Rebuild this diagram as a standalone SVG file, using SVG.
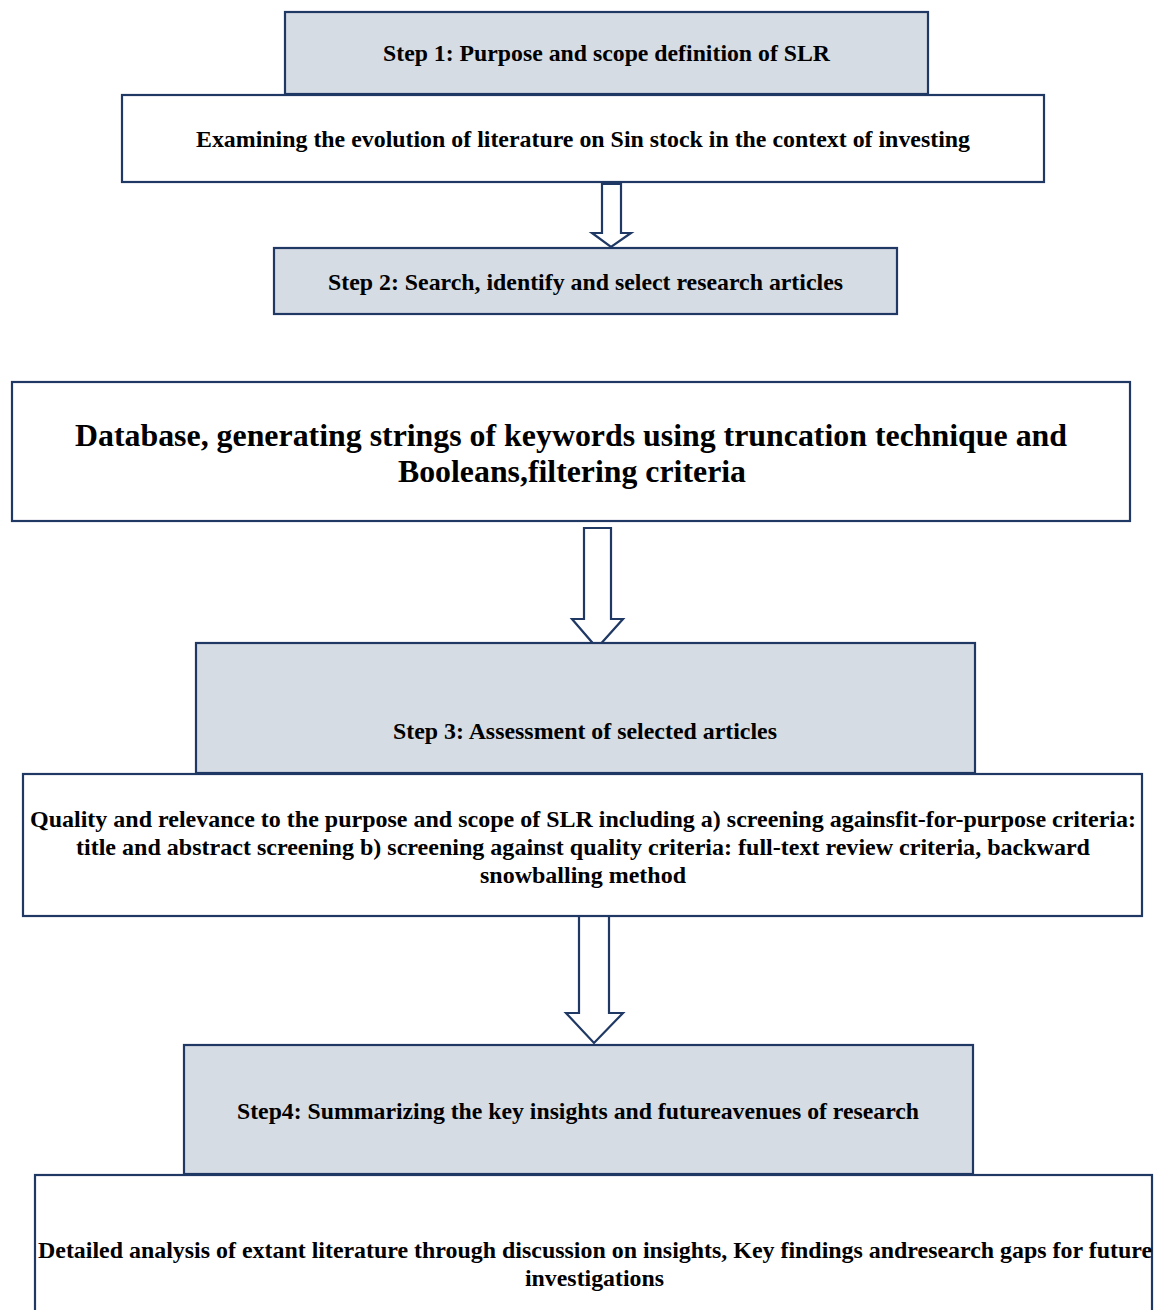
<svg xmlns="http://www.w3.org/2000/svg" width="1159" height="1310" viewBox="0 0 1159 1310">
<style>
.box{stroke:#1F3864;stroke-width:2.2;}
.step{fill:#D6DCE4;}
.plain{fill:#FFFFFF;}
.arr{fill:#FFFFFF;stroke:#1F3864;stroke-width:2.2;stroke-linejoin:miter;}
text{font-family:"Liberation Serif","Times New Roman",serif;font-weight:bold;fill:#000;text-anchor:middle;}
.t20{font-size:23px;}
.t28{font-size:31.5px;}
</style>
<rect width="1159" height="1310" fill="#FFFFFF"/>
<g id="connectors">
<path class="arr" d="M602,184 L621,184 L621,233 L631,233 L611,247 L592,233 L602,233 Z"/>
<path class="arr" d="M584,528 L611,528 L611,619 L623,619 L597,648 L572,619 L584,619 Z"/>
<path class="arr" d="M579,916 L609,916 L609,1013 L623,1013 L594,1043 L566,1013 L579,1013 Z"/>
</g>
<g id="step1">
<rect class="box step" x="285" y="12" width="643" height="82"/>
<text class="t20" x="606.5" y="61" textLength="447" lengthAdjust="spacingAndGlyphs">Step 1: Purpose and scope definition of SLR</text>
</g>
<g id="scope">
<rect class="box plain" x="122" y="95" width="922" height="87"/>
<text class="t20" x="583" y="147" textLength="774" lengthAdjust="spacingAndGlyphs">Examining the evolution of literature on Sin stock in the context of investing</text>
</g>
<g id="step2">
<rect class="box step" x="274" y="248" width="623" height="66"/>
<text class="t20" x="585.5" y="290" textLength="515" lengthAdjust="spacingAndGlyphs">Step 2: Search, identify and select research articles</text>
</g>
<g id="search">
<rect class="box plain" x="12" y="382" width="1118" height="139"/>
<text class="t28" x="571" y="446" textLength="992" lengthAdjust="spacingAndGlyphs">Database, generating strings of keywords using truncation technique and</text>
<text class="t28" x="572" y="482" textLength="348" lengthAdjust="spacingAndGlyphs">Booleans,filtering criteria</text>
</g>
<g id="step3">
<rect class="box step" x="196" y="643" width="779" height="130"/>
<text class="t20" x="585" y="739" textLength="384" lengthAdjust="spacingAndGlyphs">Step 3: Assessment of selected articles</text>
</g>
<g id="assessment">
<rect class="box plain" x="23" y="774" width="1119" height="142"/>
<text class="t20" x="583" y="827" textLength="1106" lengthAdjust="spacingAndGlyphs">Quality and relevance to the purpose and scope of SLR including a) screening againsfit-for-purpose criteria:</text>
<text class="t20" x="583" y="855" textLength="1014" lengthAdjust="spacingAndGlyphs">title and abstract screening b) screening against quality criteria: full-text review criteria, backward</text>
<text class="t20" x="583" y="883" textLength="206" lengthAdjust="spacingAndGlyphs">snowballing method</text>
</g>
<g id="step4">
<rect class="box step" x="184" y="1045" width="789" height="129"/>
<text class="t20" x="578" y="1119" textLength="682" lengthAdjust="spacingAndGlyphs">Step4: Summarizing the key insights and futureavenues of research</text>
</g>
<g id="summary">
<rect class="box plain" x="35" y="1175" width="1117" height="145"/>
<text class="t20" x="595" y="1258" textLength="1114" lengthAdjust="spacingAndGlyphs">Detailed analysis of extant literature through discussion on insights, Key findings andresearch gaps for future</text>
<text class="t20" x="594.5" y="1286" textLength="139" lengthAdjust="spacingAndGlyphs">investigations</text>
</g>
</svg>
